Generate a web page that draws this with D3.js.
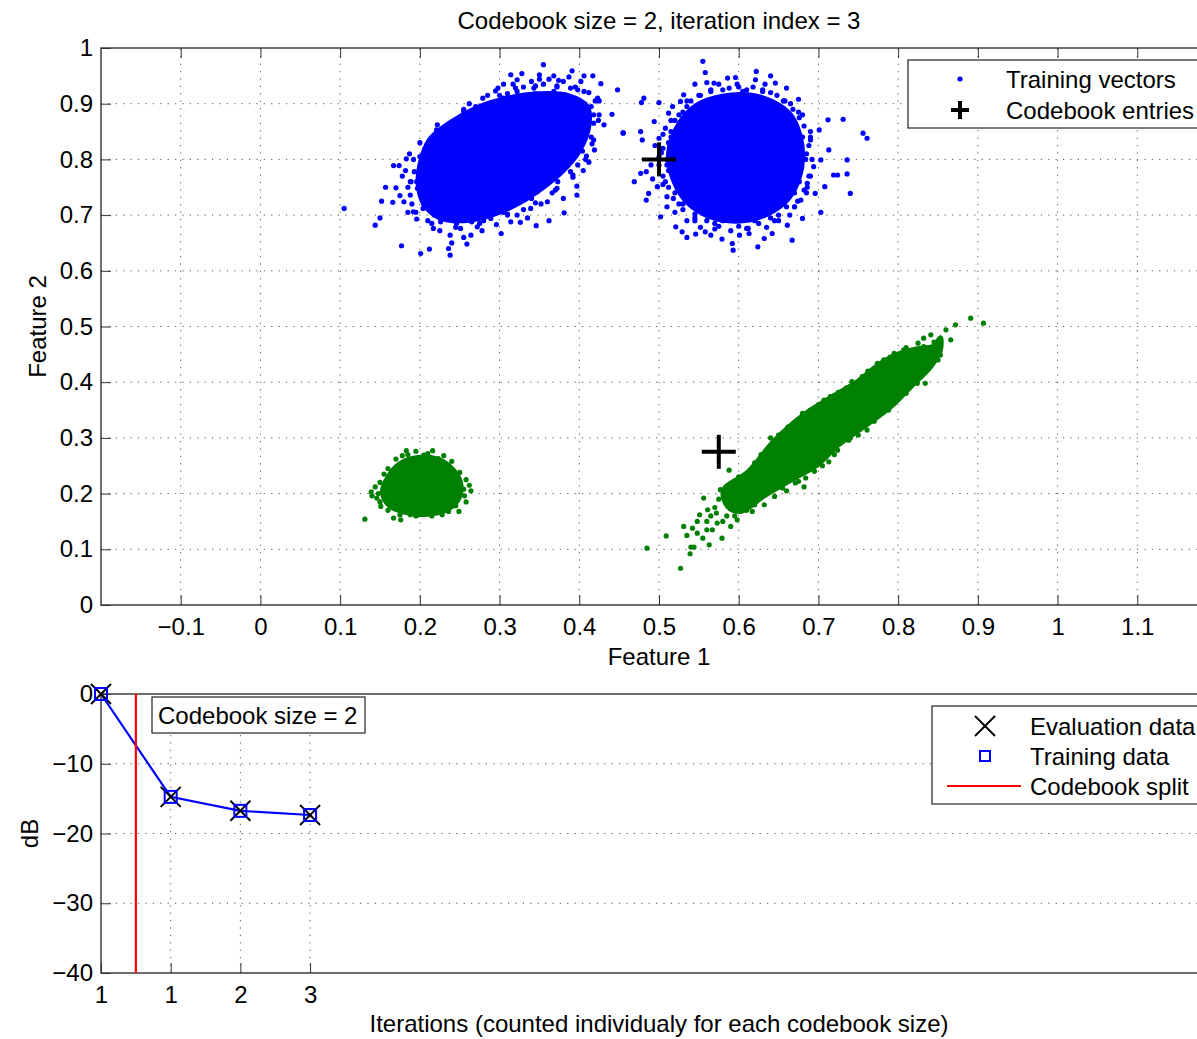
<!DOCTYPE html>
<html>
<head>
<meta charset="utf-8">
<script src="https://cdnjs.cloudflare.com/ajax/libs/d3/7.8.5/d3.min.js"></script>
<style>
body { margin: 0; background: #fff; overflow: hidden; }
text { font-family: "Liberation Sans", Arial, sans-serif; fill: #000; }
</style>
</head>
<body>
<script>
const width = 1197;
const height = 1039;
const fontSize = 24;

// ---- top panel data (feature space) ----
const xTicksTop = [-0.1, 0, 0.1, 0.2, 0.3, 0.4, 0.5, 0.6, 0.7, 0.8, 0.9, 1, 1.1];
const yTicksTop = [0, 0.1, 0.2, 0.3, 0.4, 0.5, 0.6, 0.7, 0.8, 0.9, 1];
const codebookEntries = [[0.5, 0.8], [0.575, 0.275]];

// dense cores of the clusters (outline)
const blueCoreLeft = [[0.200,0.790],[0.212,0.835],[0.240,0.868],[0.275,0.895],[0.310,0.910],[0.350,0.918],[0.385,0.915],[0.410,0.895],[0.412,0.860],[0.400,0.815],[0.380,0.780],[0.355,0.750],[0.325,0.722],[0.290,0.700],[0.255,0.690],[0.225,0.695],[0.205,0.720],[0.198,0.755]];
const blueCoreRight = [[0.526,0.866],[0.548,0.898],[0.578,0.913],[0.612,0.916],[0.642,0.904],[0.665,0.880],[0.677,0.842],[0.680,0.800],[0.673,0.756],[0.658,0.723],[0.630,0.698],[0.596,0.689],[0.562,0.698],[0.536,0.722],[0.519,0.760],[0.512,0.810]];
const greenCoreLeft = [[0.161,0.232],[0.175,0.254],[0.197,0.265],[0.222,0.262],[0.239,0.247],[0.251,0.220],[0.249,0.192],[0.235,0.172],[0.209,0.163],[0.183,0.166],[0.162,0.178],[0.153,0.203]];
const greenCoreRight = [[0.581,0.207],[0.611,0.238],[0.644,0.294],[0.682,0.342],[0.715,0.372],[0.749,0.401],[0.774,0.430],[0.799,0.450],[0.820,0.459],[0.845,0.465],[0.853,0.480],[0.853,0.458],[0.841,0.428],[0.816,0.392],[0.791,0.356],[0.757,0.320],[0.724,0.286],[0.699,0.252],[0.665,0.224],[0.632,0.196],[0.602,0.168],[0.586,0.177]];

// scattered training vectors around the cores
const bluePointsLeft = [[0.355,0.970],[0.105,0.712],[0.144,0.682],[0.150,0.695],[0.152,0.725],[0.157,0.750],[0.177,0.645],[0.201,0.631],[0.212,0.639],[0.238,0.628],[0.236,0.640],[0.259,0.648],[0.302,0.667],[0.326,0.687],[0.346,0.681],[0.362,0.690],[0.381,0.704],[0.397,0.752],[0.409,0.806],[0.419,0.817],[0.441,0.881],[0.448,0.925],[0.455,0.847],[0.427,0.936],[0.417,0.950],[0.406,0.950],[0.391,0.959],[0.368,0.950],[0.374,0.942],[0.350,0.952],[0.350,0.944],[0.328,0.954],[0.314,0.952],[0.322,0.943],[0.305,0.935],[0.295,0.923],[0.167,0.789],[0.174,0.789],[0.187,0.810],[0.183,0.801],[0.189,0.760],[0.170,0.749],[0.166,0.723],[0.180,0.724],[0.185,0.705],[0.196,0.693],[0.221,0.853],[0.255,0.885],
  [0.213,0.826],[0.201,0.790],[0.197,0.748],[0.188,0.736],[0.209,0.724],[0.217,0.676],[0.226,0.688],[0.251,0.676],[0.272,0.679],[0.289,0.694],[0.322,0.700],[0.339,0.712],[0.347,0.742],[0.372,0.748],[0.389,0.778],[0.393,0.808],[0.410,0.850],[0.418,0.880],[0.423,0.910],[0.406,0.922],[0.389,0.928],[0.368,0.922],[0.343,0.928],[0.322,0.922],[0.305,0.910],[0.284,0.898],[0.268,0.880],[0.251,0.868],[0.234,0.844],[0.431,0.862],[0.397,0.736],[0.360,0.724],[0.314,0.688],[0.264,0.664],[0.238,0.664],[0.192,0.706],
  [0.330,0.930],[0.355,0.935],[0.380,0.940],[0.395,0.930],[0.300,0.915],[0.270,0.895],[0.415,0.895],[0.425,0.880],[0.240,0.860],[0.225,0.835],[0.205,0.770],[0.215,0.750],[0.230,0.715],[0.250,0.695],[0.280,0.690],[0.310,0.700],[0.335,0.695],[0.380,0.730],[0.405,0.780],[0.400,0.830],[0.415,0.840],
  [0.200,0.805],[0.208,0.818],[0.219,0.812],[0.222,0.845],[0.232,0.852],[0.243,0.838],[0.246,0.872],[0.258,0.878],[0.262,0.900],[0.275,0.892],[0.279,0.910],[0.292,0.902],[0.298,0.928],[0.310,0.918],[0.317,0.935],[0.333,0.915],[0.340,0.940],[0.345,0.918],[0.360,0.912],[0.362,0.944],[0.372,0.930],[0.384,0.915],[0.387,0.948],[0.398,0.905],[0.402,0.940],[0.410,0.890],[0.412,0.920],[0.418,0.865],[0.425,0.905],[0.409,0.870],[0.416,0.828],[0.404,0.815],[0.412,0.795],[0.398,0.790],[0.392,0.768],[0.385,0.790],[0.373,0.760],[0.366,0.740],[0.355,0.752],[0.352,0.720],[0.340,0.730],[0.330,0.710],[0.318,0.722],[0.305,0.705],[0.296,0.683],[0.285,0.700],[0.278,0.672],[0.265,0.688],[0.255,0.660],[0.246,0.685],[0.240,0.650],[0.232,0.695],[0.225,0.672],[0.218,0.700],[0.210,0.690],[0.204,0.712],[0.200,0.740],[0.196,0.760],[0.193,0.778],[0.185,0.750],[0.178,0.770],[0.205,0.720],[0.182,0.780],[0.175,0.735],[0.190,0.720],
  [0.285,0.915],[0.320,0.928],[0.345,0.932],[0.372,0.932],[0.398,0.925],[0.420,0.905],[0.424,0.870],[0.418,0.835],[0.408,0.800],[0.392,0.772],[0.370,0.745],[0.345,0.722],[0.310,0.702],[0.275,0.685],[0.245,0.678],[0.215,0.685],[0.195,0.705],[0.188,0.760],[0.192,0.800],[0.200,0.830],[0.222,0.862],[0.255,0.890]];
const bluePointsRight = [[0.555,0.976],[0.558,0.956],[0.545,0.935],[0.560,0.938],[0.569,0.937],[0.586,0.946],[0.596,0.947],[0.622,0.958],[0.621,0.943],[0.640,0.950],[0.646,0.937],[0.660,0.928],[0.675,0.908],[0.531,0.916],[0.527,0.904],[0.500,0.902],[0.478,0.902],[0.481,0.910],[0.455,0.848],[0.477,0.850],[0.479,0.835],[0.494,0.868],[0.512,0.883],[0.469,0.760],[0.477,0.775],[0.484,0.778],[0.484,0.727],[0.487,0.739],[0.498,0.751],[0.510,0.733],[0.521,0.679],[0.529,0.670],[0.535,0.660],[0.546,0.666],[0.558,0.670],[0.565,0.664],[0.579,0.657],[0.592,0.649],[0.593,0.637],[0.601,0.664],[0.613,0.667],[0.624,0.643],[0.632,0.658],[0.642,0.667],[0.661,0.682],[0.667,0.655],[0.680,0.694],[0.703,0.705],[0.708,0.751],[0.696,0.739],[0.719,0.772],[0.724,0.772],[0.736,0.774],[0.740,0.739],[0.736,0.799],[0.713,0.817],[0.712,0.871],[0.731,0.872],[0.756,0.847],[0.761,0.838],[0.701,0.853],[0.690,0.835],[0.694,0.787],[0.686,0.757],[0.678,0.727],[0.703,0.799],[0.502,0.697],[0.510,0.715],
  [0.515,0.850],[0.505,0.820],[0.510,0.790],[0.505,0.770],[0.520,0.740],[0.530,0.710],[0.545,0.690],[0.570,0.685],[0.600,0.680],[0.625,0.685],[0.650,0.700],[0.670,0.715],[0.685,0.740],[0.690,0.770],[0.685,0.810],[0.690,0.850],[0.680,0.880],[0.665,0.900],[0.640,0.920],[0.610,0.925],[0.580,0.925],[0.550,0.915],[0.530,0.885],
  [0.540,0.905],[0.552,0.915],[0.565,0.922],[0.575,0.935],[0.588,0.928],[0.598,0.935],[0.605,0.922],[0.618,0.930],[0.630,0.922],[0.633,0.935],[0.648,0.915],[0.656,0.905],[0.668,0.890],[0.676,0.875],[0.682,0.860],[0.680,0.840],[0.688,0.825],[0.678,0.820],[0.684,0.800],[0.679,0.785],[0.688,0.770],[0.676,0.760],[0.682,0.745],[0.670,0.740],[0.674,0.725],[0.660,0.715],[0.664,0.700],[0.650,0.690],[0.640,0.695],[0.635,0.678],[0.620,0.690],[0.612,0.676],[0.600,0.690],[0.590,0.672],[0.580,0.690],[0.570,0.675],[0.560,0.690],[0.552,0.678],[0.545,0.702],[0.535,0.690],[0.530,0.720],[0.520,0.705],[0.518,0.730],[0.512,0.750],[0.520,0.760],[0.508,0.760],[0.512,0.780],[0.500,0.790],[0.510,0.800],[0.503,0.812],[0.512,0.830],[0.500,0.838],[0.515,0.840],[0.508,0.856],[0.520,0.870],[0.525,0.880],[0.535,0.895],[0.517,0.895],[0.495,0.825],[0.490,0.790],[0.492,0.765],
  [0.515,0.870],[0.535,0.905],[0.565,0.925],[0.600,0.930],[0.630,0.925],[0.658,0.905],[0.675,0.885],[0.690,0.840],[0.692,0.800],[0.686,0.750],[0.670,0.715],[0.645,0.690],[0.610,0.676],[0.575,0.680],[0.545,0.695],[0.525,0.720],[0.505,0.755],[0.500,0.805],[0.505,0.845]];
const greenPointsLeft = [[0.131,0.154],[0.139,0.203],[0.144,0.212],[0.151,0.177],[0.167,0.156],[0.176,0.153],[0.183,0.277],[0.205,0.269],[0.216,0.277],[0.223,0.263],[0.264,0.205],[0.256,0.196],[0.249,0.168],[0.236,0.168],[0.188,0.162],[0.199,0.162],[0.178,0.268],[0.157,0.219],[0.146,0.192],
  [0.160,0.245],[0.170,0.262],[0.185,0.270],[0.195,0.276],[0.210,0.272],[0.230,0.268],[0.240,0.258],[0.250,0.238],[0.258,0.225],[0.255,0.208],[0.258,0.185],[0.245,0.178],[0.228,0.162],[0.215,0.160],[0.195,0.160],[0.175,0.162],[0.160,0.170],[0.150,0.185],[0.148,0.200],[0.150,0.220],[0.155,0.235],[0.140,0.196],[0.262,0.215]];
const greenPointsRight = [[0.485,0.102],[0.527,0.066],[0.509,0.124],[0.531,0.141],[0.539,0.092],[0.540,0.104],[0.544,0.104],[0.542,0.138],[0.548,0.129],[0.551,0.162],[0.556,0.192],[0.561,0.171],[0.563,0.108],[0.567,0.135],[0.573,0.147],[0.579,0.120],[0.590,0.141],[0.588,0.242],[0.577,0.207],[0.598,0.153],[0.606,0.177],[0.617,0.168],[0.632,0.180],[0.632,0.272],[0.650,0.305],[0.669,0.326],[0.680,0.344],[0.707,0.368],[0.715,0.374],[0.742,0.401],[0.774,0.434],[0.795,0.452],[0.807,0.458],[0.832,0.479],[0.832,0.464],[0.824,0.398],[0.834,0.398],[0.788,0.350],[0.761,0.314],[0.738,0.296],[0.724,0.278],[0.713,0.257],[0.684,0.228],[0.682,0.212],[0.671,0.219],[0.655,0.210],[0.634,0.201],[0.872,0.503],[0.891,0.515],[0.907,0.506],[0.860,0.494],[0.841,0.485],[0.866,0.476],[0.853,0.449],
  [0.560,0.150],[0.570,0.175],[0.585,0.160],[0.595,0.190],[0.575,0.190],[0.565,0.160],
  [0.600,0.230],[0.620,0.255],[0.628,0.270],[0.640,0.300],[0.655,0.308],[0.662,0.320],[0.690,0.350],[0.700,0.360],[0.725,0.382],[0.735,0.390],[0.755,0.410],[0.762,0.420],[0.782,0.440],[0.790,0.445],[0.810,0.462],[0.825,0.470],[0.845,0.472],
  [0.850,0.440],[0.835,0.420],[0.828,0.410],[0.810,0.380],[0.800,0.370],[0.780,0.345],[0.770,0.330],[0.750,0.305],[0.740,0.300],[0.720,0.270],[0.705,0.250],[0.695,0.240],[0.675,0.222],[0.660,0.205],[0.645,0.195],[0.620,0.180],[0.610,0.170],[0.595,0.160],
  [0.555,0.120],[0.548,0.150],[0.535,0.125],[0.560,0.135],[0.580,0.150],[0.572,0.165],[0.590,0.175]];

// ---- bottom panel data (distortion per iteration) ----
const iterPositions = [0, 1, 2, 3];
const iterLabels = ["1", "1", "2", "3"];
const evalDb = [0, -14.75, -16.75, -17.35];
const trainDb = [0, -14.75, -16.75, -17.35];
const splitPositions = [0.5];
const dbTicks = [0, -10, -20, -30, -40];

const svg = d3.select('body')
    .append('svg')
    .attr('width', width)
    .attr('height', height);

const fmt = d3.format("~g");

// ================= top panel =================
const panelA = { left: 101, right: 1217, top: 48, bottom: 605 };
const x = d3.scaleLinear().domain([-0.2, 1.2]).range([panelA.left, panelA.right]);
const y = d3.scaleLinear().domain([0, 1]).range([panelA.bottom, panelA.top]);

// dotted grid
const gridA = svg.append('g')
    .attr('stroke', '#555')
    .attr('stroke-width', 1)
    .attr('stroke-dasharray', '1.2,6.2');
gridA.selectAll('.vx')
    .data(xTicksTop)
    .join('line')
    .attr('x1', d => x(d)).attr('x2', d => x(d))
    .attr('y1', y(0)).attr('y2', y(1));
gridA.selectAll('.hy')
    .data(yTicksTop.filter(d => d > 0 && d < 1))
    .join('line')
    .attr('x1', x(-0.2)).attr('x2', x(1.2))
    .attr('y1', d => y(d)).attr('y2', d => y(d));

// axes (ticks point inward)
svg.append('g')
    .attr('transform', `translate(0,${y(0)})`)
    .call(d3.axisBottom(x).tickValues(xTicksTop).tickSize(-10).tickSizeOuter(0).tickPadding(13).tickFormat(fmt))
    .call(g => g.select('.domain').remove())
    .attr('font-size', fontSize).attr('color', '#333');
svg.append('g')
    .attr('transform', `translate(0,${y(1)})`)
    .call(d3.axisTop(x).tickValues(xTicksTop).tickSize(-10).tickSizeOuter(0).tickFormat(''))
    .call(g => g.select('.domain').remove())
    .attr('color', '#333');
svg.append('g')
    .attr('transform', `translate(${x(-0.2)},0)`)
    .call(d3.axisLeft(y).tickValues(yTicksTop).tickSize(-10).tickSizeOuter(0).tickPadding(8).tickFormat(fmt))
    .call(g => g.select('.domain').remove())
    .attr('font-size', fontSize).attr('color', '#333');

svg.append('rect')
    .attr('x', x(-0.2)).attr('y', y(1))
    .attr('width', x(1.2) - x(-0.2)).attr('height', y(0) - y(1))
    .attr('fill', 'none').attr('stroke', '#333').attr('stroke-width', 1.4);

// clusters
const hull = d3.line()
    .x(d => x(d[0]))
    .y(d => y(d[1]))
    .curve(d3.curveCatmullRomClosed.alpha(0.5));

const clusters = [
    { core: blueCoreLeft, points: bluePointsLeft, color: '#0000ff' },
    { core: blueCoreRight, points: bluePointsRight, color: '#0000ff' },
    { core: greenCoreLeft, points: greenPointsLeft, color: '#008000' },
    { core: greenCoreRight, points: greenPointsRight, color: '#008000' }
];
clusters.forEach(c => {
    svg.append('path')
        .datum(c.core)
        .attr('d', hull)
        .attr('fill', c.color)
        .attr('stroke', c.color)
        .attr('stroke-width', 5)
        .attr('stroke-linejoin', 'round');
    svg.append('g')
        .selectAll('circle')
        .data(c.points)
        .join('circle')
        .attr('cx', d => x(d[0]))
        .attr('cy', d => y(d[1]))
        .attr('r', 2.6)
        .attr('fill', c.color);
});

// codebook entries
const plusA = svg.append('g').attr('stroke', '#000').attr('stroke-width', 4);
plusA.selectAll('.ph').data(codebookEntries).join('line')
    .attr('x1', d => x(d[0]) - 17).attr('x2', d => x(d[0]) + 17)
    .attr('y1', d => y(d[1])).attr('y2', d => y(d[1]));
plusA.selectAll('.pv').data(codebookEntries).join('line')
    .attr('x1', d => x(d[0])).attr('x2', d => x(d[0]))
    .attr('y1', d => y(d[1]) - 17).attr('y2', d => y(d[1]) + 17);

// legend
const legA = svg.append('g').attr('transform', 'translate(908,60)');
legA.append('rect').attr('width', 400).attr('height', 68)
    .attr('fill', '#fff').attr('stroke', '#222').attr('stroke-width', 1.2);
legA.append('circle').attr('cx', 52).attr('cy', 19).attr('r', 2.6).attr('fill', '#0000ff');
legA.append('line').attr('x1', 43).attr('x2', 61).attr('y1', 50).attr('y2', 50).attr('stroke', '#000').attr('stroke-width', 4);
legA.append('line').attr('x1', 52).attr('x2', 52).attr('y1', 41).attr('y2', 59).attr('stroke', '#000').attr('stroke-width', 4);
legA.append('text').attr('x', 98).attr('y', 28).attr('font-size', fontSize).text('Training vectors');
legA.append('text').attr('x', 98).attr('y', 59).attr('font-size', fontSize).text('Codebook entries');

// titles
svg.append('text')
    .attr('x', (panelA.left + panelA.right) / 2).attr('y', 29)
    .attr('text-anchor', 'middle').attr('font-size', fontSize)
    .text('Codebook size = 2, iteration index = 3');
svg.append('text')
    .attr('x', (panelA.left + panelA.right) / 2).attr('y', 665)
    .attr('text-anchor', 'middle').attr('font-size', fontSize)
    .text('Feature 1');
svg.append('text')
    .attr('transform', `translate(46,${(panelA.top + panelA.bottom) / 2}) rotate(-90)`)
    .attr('text-anchor', 'middle').attr('font-size', fontSize)
    .text('Feature 2');

// ================= bottom panel =================
const panelB = { left: 101, right: 1216, top: 694, bottom: 973 };
const xb = d3.scaleLinear().domain([0, 16]).range([panelB.left, panelB.right]);
const yb = d3.scaleLinear().domain([-40, 0]).range([panelB.bottom, panelB.top]);

const gridB = svg.append('g')
    .attr('stroke', '#555')
    .attr('stroke-width', 1)
    .attr('stroke-dasharray', '1.2,6.2');
gridB.selectAll('.vx')
    .data(iterPositions.filter(d => d > 0))
    .join('line')
    .attr('x1', d => xb(d)).attr('x2', d => xb(d))
    .attr('y1', yb(-40)).attr('y2', yb(0));
gridB.selectAll('.hy')
    .data(dbTicks.filter(d => d > -40 && d < 0))
    .join('line')
    .attr('x1', xb(0)).attr('x2', xb(16))
    .attr('y1', d => yb(d)).attr('y2', d => yb(d));

svg.append('g')
    .attr('transform', `translate(0,${yb(-40)})`)
    .call(d3.axisBottom(xb).tickValues(iterPositions).tickSize(-10).tickSizeOuter(0).tickPadding(13).tickFormat((d, i) => iterLabels[i]))
    .call(g => g.select('.domain').remove())
    .attr('font-size', fontSize).attr('color', '#333');
svg.append('g')
    .attr('transform', `translate(${xb(0)},0)`)
    .call(d3.axisLeft(yb).tickValues(dbTicks).tickSize(-10).tickSizeOuter(0).tickPadding(8).tickFormat(fmt))
    .call(g => g.select('.domain').remove())
    .attr('font-size', fontSize).attr('color', '#333');

svg.append('rect')
    .attr('x', xb(0)).attr('y', yb(0))
    .attr('width', xb(16) - xb(0)).attr('height', yb(-40) - yb(0))
    .attr('fill', 'none').attr('stroke', '#333').attr('stroke-width', 1.4);

// training curve
const curve = d3.line()
    .x((d, i) => xb(iterPositions[i]))
    .y(d => yb(d));
svg.append('path')
    .datum(trainDb)
    .attr('d', curve)
    .attr('fill', 'none')
    .attr('stroke', '#0000ff')
    .attr('stroke-width', 2.2);

// codebook split line
svg.append('g')
    .selectAll('line')
    .data(splitPositions)
    .join('line')
    .attr('x1', d => xb(d)).attr('x2', d => xb(d))
    .attr('y1', yb(-40)).attr('y2', yb(0))
    .attr('stroke', '#ff0000').attr('stroke-width', 2.2);

// evaluation markers (x)
const crosses = svg.append('g').attr('stroke', '#000').attr('stroke-width', 2);
evalDb.forEach((v, i) => {
    const cx = xb(iterPositions[i]), cy = yb(v);
    crosses.append('line').attr('x1', cx - 10).attr('y1', cy - 10).attr('x2', cx + 10).attr('y2', cy + 10);
    crosses.append('line').attr('x1', cx - 10).attr('y1', cy + 10).attr('x2', cx + 10).attr('y2', cy - 10);
});

// training markers (squares)
svg.append('g')
    .selectAll('rect')
    .data(trainDb)
    .join('rect')
    .attr('x', (d, i) => xb(iterPositions[i]) - 6)
    .attr('y', d => yb(d) - 6)
    .attr('width', 12).attr('height', 12)
    .attr('fill', 'none')
    .attr('stroke', '#0000ff').attr('stroke-width', 2);

// annotation box
const note = svg.append('g').attr('transform', 'translate(152,697)');
note.append('rect').attr('width', 213).attr('height', 36)
    .attr('fill', '#fff').attr('stroke', '#222').attr('stroke-width', 1.2);
note.append('text').attr('x', 6).attr('y', 27).attr('font-size', fontSize).text('Codebook size = 2');

// legend
const legB = svg.append('g').attr('transform', 'translate(932,706)');
legB.append('rect').attr('width', 400).attr('height', 98)
    .attr('fill', '#fff').attr('stroke', '#222').attr('stroke-width', 1.2);
legB.append('line').attr('x1', 43).attr('y1', 10).attr('x2', 63).attr('y2', 30).attr('stroke', '#000').attr('stroke-width', 2);
legB.append('line').attr('x1', 43).attr('y1', 30).attr('x2', 63).attr('y2', 10).attr('stroke', '#000').attr('stroke-width', 2);
legB.append('rect').attr('x', 48).attr('y', 45).attr('width', 10).attr('height', 10)
    .attr('fill', 'none').attr('stroke', '#0000ff').attr('stroke-width', 2);
legB.append('line').attr('x1', 15).attr('x2', 89).attr('y1', 80).attr('y2', 80)
    .attr('stroke', '#ff0000').attr('stroke-width', 2);
legB.append('text').attr('x', 98).attr('y', 29).attr('font-size', fontSize).text('Evaluation data');
legB.append('text').attr('x', 98).attr('y', 59).attr('font-size', fontSize).text('Training data');
legB.append('text').attr('x', 98).attr('y', 89).attr('font-size', fontSize).text('Codebook split');

svg.append('text')
    .attr('transform', `translate(38,${(panelB.top + panelB.bottom) / 2}) rotate(-90)`)
    .attr('text-anchor', 'middle').attr('font-size', fontSize)
    .text('dB');
svg.append('text')
    .attr('x', (panelA.left + panelA.right) / 2).attr('y', 1032)
    .attr('text-anchor', 'middle').attr('font-size', fontSize)
    .text('Iterations (counted individualy for each codebook size)');
</script>
</body>
</html>
